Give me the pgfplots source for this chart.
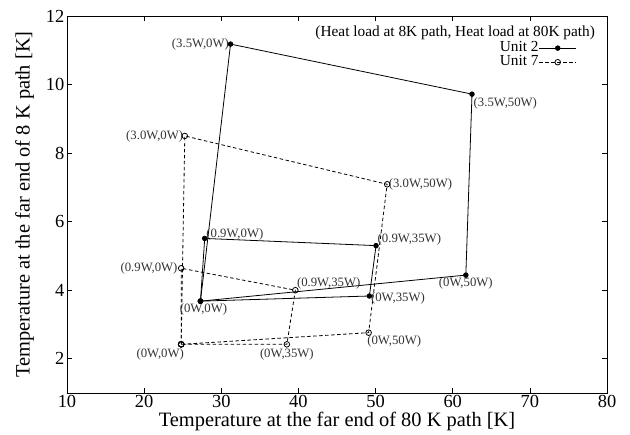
\documentclass[border=0pt]{standalone}
\usepackage{fontspec}
\setmainfont{Liberation Serif}
\usepackage{pgfplots}
\pgfplotsset{compat=1.18}
\begin{document}
\begin{tikzpicture}
\begin{axis}[
  scale only axis,
  width=540bp, height=377bp,
  xmin=10, xmax=80, ymin=1, ymax=12,
  xtick={10,20,...,80}, ytick={2,4,...,12},
  tick align=inside,
  major tick length=5bp,
  tick style={black, line width=0.6bp},
  axis line style={line width=0.8bp},
  /pgf/number format/assume math mode=true,
  tick label style={font=\fontsize{18.5}{18.5}\selectfont},
  xticklabel style={inner sep=2.5bp, text depth=0pt},
  yticklabel style={inner sep=2.5bp},
  label style={font=\fontsize{20.5}{22}\selectfont},
  xlabel={Temperature at the far end of 80 K path [K]},
  ylabel={Temperature at the far end of 8 K path [K]},
  xlabel style={yshift=2bp},
  ylabel style={yshift=6bp},
  clip=false,
  legend style={draw=none, fill=none, at={(rel axis cs:0.944,0.934)}, anchor=north east,
    font=\fontsize{15.4}{15.4}\selectfont, inner sep=0pt, row sep=0pt,
    nodes={inner sep=0.3bp, text height=10.5bp, text depth=3bp}},
  legend cell align=right,
  legend plot pos=right,
  legend image code/.code={\draw[mark repeat=2,mark phase=2] plot coordinates {(0.15cm,0cm) (0.8cm,0cm) (1.45cm,0cm)};},
  every axis plot/.append style={line width=0.8bp},
]
% Unit 2
\addplot[black, solid, mark=*, mark size=2.3bp] coordinates {
  (27.3,3.68) (31.2,11.18) (62.5,9.72) (61.7,4.44) (27.3,3.68)
};
\addlegendentry{Unit 2}
\addplot[black, solid, mark=*, mark size=2.3bp, forget plot] coordinates {
  (27.3,3.68) (27.85,5.51) (50.06,5.30) (49.2,3.83) (27.3,3.68)
};

% Unit 7
\addplot[black, dash pattern=on 3.5bp off 2.5bp, mark=o, mark size=2.8bp, mark options={solid}] coordinates {
  (24.8,2.42) (25.27,8.50) (51.5,7.09) (49.1,2.76) (24.8,2.42)
};
\addlegendentry{Unit 7}
\addplot[black, dash pattern=on 3.5bp off 2.5bp, mark=o, mark size=2.8bp, mark options={solid}, forget plot] coordinates {
  (24.8,2.42) (24.8,4.64) (39.6,4.0) (38.5,2.42) (24.8,2.42)
};

\node[anchor=east, font=\fontsize{15.4}{15.4}\selectfont, inner sep=0pt] at (rel axis cs:0.978,0.955) {(Heat load at 8K path, Heat load at 80K path)};

\begin{scope}[every node/.style={font=\fontsize{12.8}{14}\selectfont, text=black!80, inner sep=1.5bp}]
% Unit 2 labels
\node[anchor=east] at (axis cs:31.2,11.18) {(3.5W,0W)};
\node[anchor=west, yshift=-9bp] at (axis cs:62.5,9.72) {(3.5W,50W)};
\node[anchor=north, yshift=-1bp] at (axis cs:61.7,4.44) {(0W,50W)};
\node[anchor=north, xshift=3bp, yshift=-1bp] at (axis cs:27.3,3.68) {(0W,0W)};
\node[anchor=south west, yshift=-3bp] at (axis cs:27.85,5.51) {(0.9W,0W)};
\node[anchor=west, yshift=6bp] at (axis cs:50.06,5.30) {(0.9W,35W)};
\node[anchor=west, yshift=-2bp] at (axis cs:49.2,3.83) {(0W,35W)};
% Unit 7 labels
\node[anchor=east] at (axis cs:25.27,8.50) {(3.0W,0W)};
\node[anchor=west] at (axis cs:51.5,7.09) {(3.0W,50W)};
\node[anchor=east, xshift=-2bp] at (axis cs:24.8,4.64) {(0.9W,0W)};
\node[anchor=south west, yshift=-1bp] at (axis cs:39.6,4.0) {(0.9W,35W)};
\node[anchor=north, xshift=-21bp, yshift=-3bp] at (axis cs:24.8,2.42) {(0W,0W)};
\node[anchor=north, yshift=-3bp] at (axis cs:38.5,2.42) {(0W,35W)};
\node[anchor=north west, xshift=-3bp, yshift=-1bp] at (axis cs:49.1,2.76) {(0W,50W)};
\end{scope}

\path (rel axis cs:0,0) ++(-67bp,-39bp) (rel axis cs:1,1) ++(23bp,16bp);
\end{axis}
\end{tikzpicture}
\end{document}
